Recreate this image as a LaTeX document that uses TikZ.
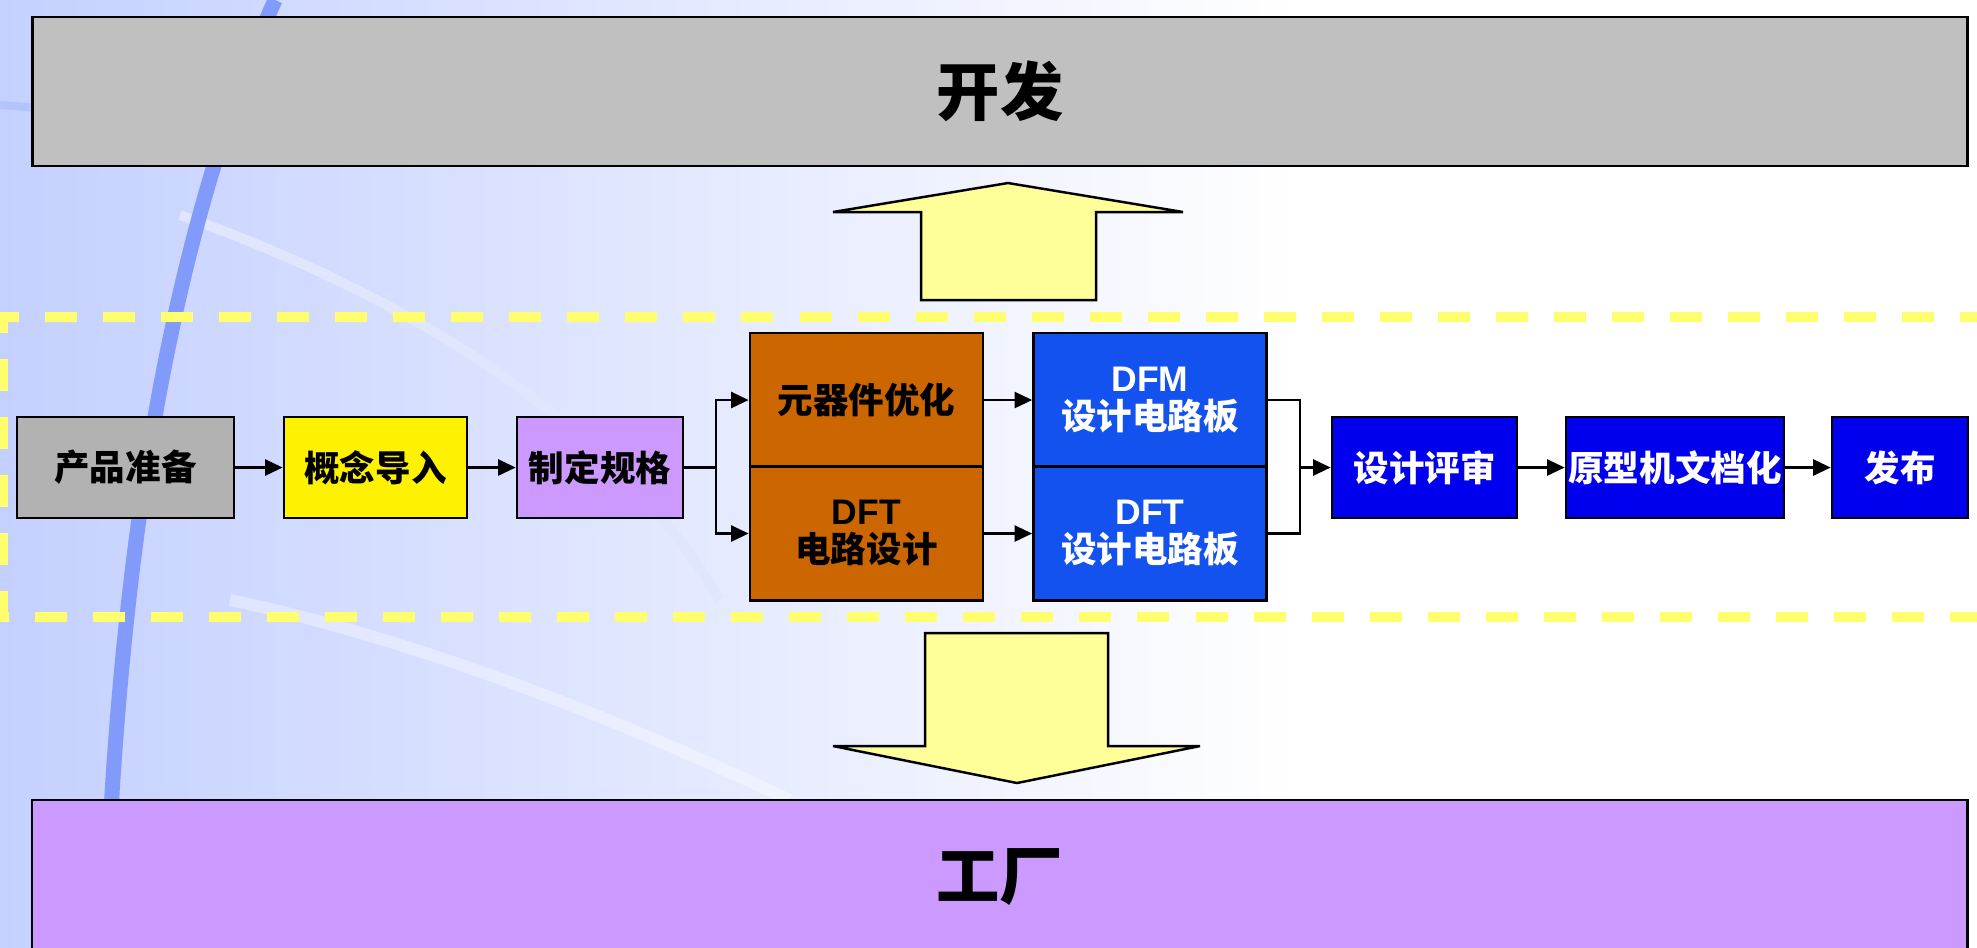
\documentclass[tikz,border=0pt]{standalone}
\usepackage{fontspec}
\setmainfont{Noto Sans CJK SC}
\newfontfamily\latinfont{Liberation Sans}
\usetikzlibrary{arrows.meta}
\definecolor{bgblue}{RGB}{196,208,255}
\definecolor{bgline}{RGB}{130,155,250}
\definecolor{devgray}{RGB}{192,192,192}
\definecolor{prepgray}{RGB}{178,178,178}
\definecolor{lilac}{RGB}{204,153,255}
\definecolor{rust}{RGB}{204,102,0}
\definecolor{boardblue}{RGB}{20,82,240}
\definecolor{deepblue}{RGB}{0,0,238}
\definecolor{pale}{RGB}{255,255,153}
\definecolor{fenceyellow}{RGB}{255,255,110}

\begin{document}
\begin{tikzpicture}[x=0.01cm, y=-0.01cm,
		proc/.style={rectangle, draw=black, line width=0.75pt,
				inner sep=0pt, minimum height=1.01cm,
				font=\fontsize{10.1}{10.8}\selectfont\bfseries, align=center},
		half/.style={proc, minimum width=2.33cm, minimum height=1.34cm},
		band/.style={rectangle, draw=black, line width=0.8pt,
				minimum width=19.34cm,
				font=\fontsize{18}{20}\selectfont\bfseries},
		flow/.style={-{Triangle[length=5pt,width=4.6pt]}, line width=0.6pt},
		link/.style={line width=0.6pt},
		wide/.style={fill=pale, draw=black, line width=0.7pt, line join=miter},
		fence/.style={draw=fenceyellow, line width=2.6pt,
				dash pattern=on 9.1pt off 7.4pt},
		]

		\clip (0,0) rectangle (1977,947);

		% ---- Fondo ----
		\shade[left color=bgblue, right color=white] (0,0) rectangle (1300,947);
		\fill[white] (1300,0) rectangle (1977,947);
		\draw[bgline!25, line width=0.10cm] (180,215) .. controls (420,300) and (620,430) .. (720,600);
		\draw[white, opacity=0.35, line width=0.12cm] (230,600) .. controls (420,640) and (620,720) .. (790,800);
		\draw[bgline!60, line width=0.08cm] (0,105) -- (40,108);
		\draw[bgline, line width=0.15cm] (275,0) .. controls (200,170) and (120,450) .. (105,947);

		% ---- Bandas ----
		\node[band, fill=devgray, minimum height=1.49cm] (dev) at (1000,91.5) {开发};
		\node[band, fill=lilac, minimum height=1.54cm] (fab) at (999.5,877) {工厂};

		% ---- Flechas anchas ----
		\draw[wide] (921,300) -- (921,212) -- (833,212) -- (1008,183)
		-- (1183,212) -- (1096,212) -- (1096,300) -- cycle;
		\draw[wide] (925,633) -- (925,746) -- (833,746) -- (1017,783)
		-- (1200,746) -- (1108,746) -- (1108,633) -- cycle;

		% ---- Marco punteado ----
		\draw[fence] (2050,317) -- (3,317) -- (3,617) -- (2050,617);

		% ---- Etapas ----
		\node[proc, fill=prepgray, minimum width=2.17cm] (prep) at (125.5,467.5) {产品准备};
		\node[proc, fill=yellow, minimum width=1.83cm] (concept) at (375.5,467.5) {概念导入};
		\node[proc, fill=lilac, minimum width=1.66cm] (spec) at (600,467.5) {制定规格};

		\node[half, fill=rust] (comp) at (866.5,400) {元器件优化};
		\node[half, fill=rust] (dftc) at (866.5,533.5) {{\latinfont DFT}\\电路设计};
		\node[half, fill=boardblue, text=white] (dfmb) at (1150,400) {{\latinfont DFM}\\设计电路板};
		\node[half, fill=boardblue, text=white] (dftb) at (1150,533.5) {{\latinfont DFT}\\设计电路板};

		\node[proc, fill=deepblue, text=white, minimum width=1.85cm] (review) at (1424.5,467.5) {设计评审};
		\node[proc, fill=deepblue, text=white, minimum width=2.18cm] (proto) at (1675,467.5) {原型机文档化};
		\node[proc, fill=deepblue, text=white, minimum width=1.36cm] (release) at (1900,467.5) {发布};

		% ---- Conexiones ----
		\coordinate (split) at (716,467.5);
		\coordinate (merge) at (1300,467.5);

		\draw[flow] (prep) -- (concept);
		\draw[flow] (concept) -- (spec);
		\draw[link] (spec) -- (split);
		\draw[flow] (split) |- (comp);
		\draw[flow] (split) |- (dftc);
		\draw[flow] (comp) -- (dfmb);
		\draw[flow] (dftc) -- (dftb);
		\draw[link] (dfmb) -| (merge);
		\draw[link] (dftb) -| (merge);
		\draw[flow] (merge) -- (review);
		\draw[flow] (review) -- (proto);
		\draw[flow] (proto) -- (release);

	\end{tikzpicture}
\end{document}
